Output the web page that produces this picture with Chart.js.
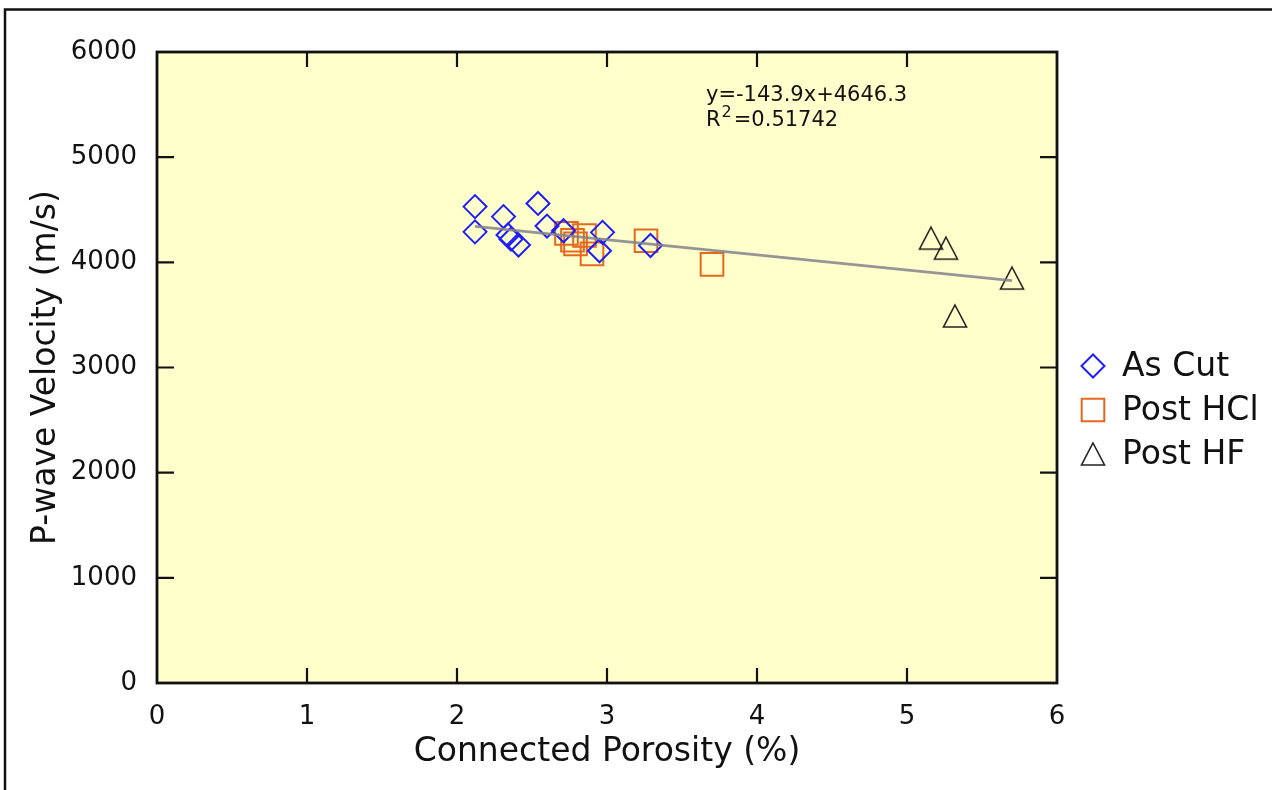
<!DOCTYPE html>
<html>
<head>
<meta charset="utf-8">
<script src="https://cdn.jsdelivr.net/npm/chart.js@4.4.1/dist/chart.umd.min.js"></script>
<style>
  html, body { margin: 0; padding: 0; background: #fff; }
  #wrap { width: 1272px; height: 790px; }
</style>
</head>
<body>
<div id="wrap"><canvas id="scatter" width="1272" height="790"></canvas></div>
<script>
// values
const asCutX = [2.12, 2.12, 2.31, 2.34, 2.36, 2.41, 2.54, 2.60, 2.71, 2.97, 2.95, 3.29];
const asCutY = [4530, 4290, 4435, 4260, 4220, 4165, 4560, 4345, 4300, 4285, 4110, 4160];

const postHclX = [2.73, 2.77, 2.79, 2.85, 2.90, 3.26, 3.70];
const postHclY = [4275, 4210, 4175, 4255, 4080, 4205, 3980];

const postHfX = [5.16, 5.26, 5.32, 5.70];
const postHfY = [4230, 4135, 3490, 3850];

// fitted line end points (from the printed equation)
const fitX = [2.12, 5.70];
const fitY = [4341, 3826];

const seriesNames = ['As Cut', 'Post HCl', 'Post HF'];
const xTicks = [0, 1, 2, 3, 4, 5, 6];
const yTicks = [0, 1000, 2000, 3000, 4000, 5000, 6000];
const fitText = 'y=-143.9x+4646.3';
const r2Text = '0.51742';

const FONT = "'DejaVu Sans', Verdana, sans-serif";
Chart.defaults.font.family = FONT;
Chart.defaults.color = '#111';

const pts = (xs, ys) => xs.map((x, i) => ({ x: x, y: ys[i] }));

// open triangle centred on its box
const tri = document.createElement('canvas');
tri.width = 26; tri.height = 26;
const tc = tri.getContext('2d');
tc.strokeStyle = '#222';
tc.lineWidth = 1.6;
tc.beginPath();
tc.moveTo(13, 2); tc.lineTo(24.5, 24); tc.lineTo(1.5, 24);
tc.closePath();
tc.stroke();

const framePlugin = {
  id: 'frame',
  beforeDraw(chart) {
    const { ctx, chartArea: a } = chart;
    ctx.save();
    ctx.fillStyle = '#fff';
    ctx.fillRect(0, 0, chart.width, chart.height);
    ctx.fillStyle = '#ffffcc';
    ctx.fillRect(a.left, a.top, a.right - a.left, a.bottom - a.top);
    // outer figure frame
    ctx.strokeStyle = '#111';
    ctx.lineWidth = 2.5;
    ctx.beginPath();
    ctx.moveTo(5, chart.height + 5);
    ctx.lineTo(5, 9.5);
    ctx.lineTo(chart.width + 5, 9.5);
    ctx.stroke();
    ctx.restore();
  },
  afterDraw(chart) {
    const { ctx, chartArea: a, scales } = chart;
    const xs = scales.x, ys = scales.y;
    ctx.save();
    ctx.strokeStyle = '#111';
    ctx.lineWidth = 2.2;
    ctx.beginPath();
    xTicks.slice(1, -1).forEach(v => {
      const px = xs.getPixelForValue(v);
      ctx.moveTo(px, a.bottom); ctx.lineTo(px, a.bottom - 15);
      ctx.moveTo(px, a.top); ctx.lineTo(px, a.top + 15);
    });
    yTicks.slice(1, -1).forEach(v => {
      const py = ys.getPixelForValue(v);
      ctx.moveTo(a.left, py); ctx.lineTo(a.left + 17, py);
      ctx.moveTo(a.right, py); ctx.lineTo(a.right - 17, py);
    });
    ctx.stroke();
    ctx.lineWidth = 2.8;
    ctx.strokeRect(a.left, a.top, a.right - a.left, a.bottom - a.top);

    // fit equation
    const tx = xs.getPixelForValue(3.66);
    const ty = ys.getPixelForValue(5590);
    ctx.fillStyle = '#111';
    ctx.textBaseline = 'middle';
    ctx.textAlign = 'left';
    ctx.font = '21px ' + FONT;
    ctx.fillText(fitText, tx, ty);
    const y2 = ty + 25;
    ctx.fillText('R', tx, y2);
    let cx = tx + ctx.measureText('R').width + 1;
    ctx.font = '16px ' + FONT;
    ctx.fillText('2', cx, y2 - 7);
    cx += ctx.measureText('2').width + 2;
    ctx.font = '21px ' + FONT;
    ctx.fillText('=' + r2Text, cx, y2);

    // legend
    ctx.font = '33px ' + FONT;
    chart.data.datasets.filter(d => d.pointStyle).forEach((d, i) => {
      const ly = 366 + i * 44;
      ctx.save();
      ctx.strokeStyle = d.borderColor;
      ctx.fillStyle = 'rgba(0,0,0,0)';
      ctx.lineWidth = d.borderWidth;
      Chart.helpers.drawPoint(ctx, { pointStyle: d.pointStyle, radius: d.pointRadius, rotation: 0, borderWidth: d.borderWidth }, 1093, ly);
      ctx.restore();
      ctx.fillStyle = '#111';
      ctx.fillText(d.label, 1122, ly + 1);
    });
    ctx.restore();
  }
};

new Chart(document.getElementById('scatter'), {
  type: 'scatter',
  data: {
    datasets: [
      {
        label: 'fit',
        data: pts(fitX, fitY),
        showLine: true,
        borderColor: 'rgba(130,130,140,0.85)',
        borderWidth: 2.8,
        pointRadius: 0
      },
      {
        label: seriesNames[0],
        data: pts(asCutX, asCutY),
        pointStyle: 'rectRot',
        pointRadius: 11.5,
        borderColor: '#1e1ef8',
        backgroundColor: 'rgba(0,0,0,0)',
        borderWidth: 2
      },
      {
        label: seriesNames[1],
        data: pts(postHclX, postHclY),
        pointStyle: 'rect',
        pointRadius: 16,
        borderColor: '#e5681f',
        backgroundColor: 'rgba(0,0,0,0)',
        borderWidth: 2
      },
      {
        label: seriesNames[2],
        data: pts(postHfX, postHfY),
        pointStyle: tri,
        pointRadius: 12,
        borderColor: '#222',
        backgroundColor: 'rgba(0,0,0,0)',
        borderWidth: 1.6
      }
    ]
  },
  options: {
    responsive: false,
    animation: false,
    events: [],
    layout: { padding: { top: 52, right: 215, bottom: 0, left: 0 } },
    plugins: {
      legend: { display: false },
      tooltip: { enabled: false }
    },
    scales: {
      x: {
        type: 'linear',
        min: 0,
        max: 6,
        afterBuildTicks: s => { s.ticks = xTicks.map(v => ({ value: v })); },
        afterFit: s => { s.height = 107; },
        grid: { display: false, drawTicks: false },
        border: { display: false },
        ticks: { font: { size: 26 }, color: '#111', padding: 19, autoSkip: false, maxRotation: 0, callback: v => String(v) },
        title: { display: true, text: 'Connected Porosity (%)', font: { size: 33 }, color: '#111', padding: { top: 0, bottom: 18 } }
      },
      y: {
        type: 'linear',
        min: 0,
        max: 6000,
        afterBuildTicks: s => { s.ticks = yTicks.map(v => ({ value: v })); },
        afterFit: s => { s.width = 157; },
        grid: { display: false, drawTicks: false },
        border: { display: false },
        ticks: { font: { size: 26 }, color: '#111', padding: 20, autoSkip: false, callback: v => String(v) },
        title: { display: true, text: 'P-wave Velocity (m/s)', font: { size: 33 }, color: '#111', padding: { top: 27, bottom: 0 } }
      }
    }
  },
  plugins: [framePlugin]
});
</script>
</body>
</html>
